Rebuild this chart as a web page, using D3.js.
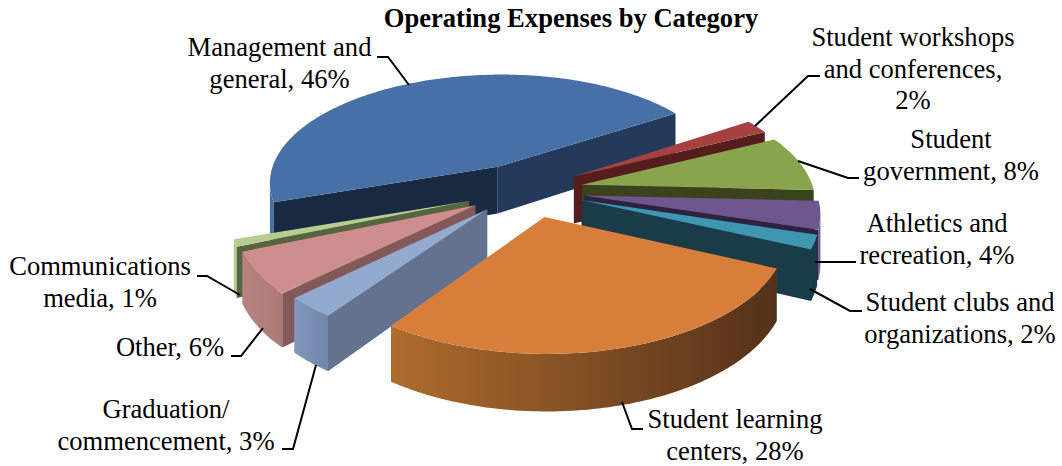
<!DOCTYPE html>
<html>
<head>
<meta charset="utf-8">
<title>Operating Expenses by Category</title>
<script src="https://cdn.jsdelivr.net/npm/d3@7"></script>
<style>
  html, body { margin: 0; padding: 0; background: #fff; }
  svg { display: block; }
  text { font-family: "Liberation Serif", serif; font-size: 26.6px; fill: #000; }
</style>
</head>
<body>
<svg width="1062" height="466"></svg>
<script>
const width = 1062, height = 466;

// Chart values
const categories = ["Management and general", "Student workshops and conferences", "Student government",
    "Athletics and recreation", "Student clubs and organizations", "Student learning centers",
    "Graduation/ commencement", "Other", "Communications media"];
const percents = [46, 2, 8, 4, 2, 28, 3, 6, 1];

// Per slice look: top face, radial wall, outer wall left and right
const topColors = ["#4670a6", "#a5413f", "#88a44c", "#70568f", "#3e97b1", "#d77f3a", "#92a9d0", "#ce8e8d", "#b7cc8f"];
const wallColors = ["#192b42", "#551e1c", "#3b431c", "#2d2240", "#1a3b48", "#54311a", "#63738f", "#825858", "#576441"];
const arcLeft = ["#4670a6", "#551e1c", "#3b431c", "#70568f", "#1a3b48", "#ae6c2d", "#8297bb", "#b5827e", "#b7cc8f"];
const arcRight = ["#4670a6", "#551e1c", "#3b431c", "#70568f", "#1a3b48", "#54311a", "#7086ab", "#ad7b77", "#b7cc8f"];

// Explosion along the slice middle, plus a small sideways nudge (the slices were dragged by hand)
const explode = [0.25, 0.23, 0.23, 0.23, 0.23, 0.23, 0.25, 0.25, 0.25];
const nudgeX = [-0.038, -0.012, -0.004, 0, 0, -0.004, -0.022, -0.026, -0.03];
const nudgeZ = [0, -0.02, -0.01, 0, 0, 0.005, -0.03, -0.01, 0];
const drawOrder = [0, 1, 2, 3, 4, 8, 7, 6, 5];

// Label text and leader lines
const labels = [
    { lines: ["Management and", "general, 46%"], x: 279.5, y: 56, leader: [[377, 57], [388, 57], [409, 85]] },
    { lines: ["Student workshops", "and conferences,", "2%"], x: 913, y: 46, leader: [[820, 76], [808, 76], [755, 126]] },
    { lines: ["Student", "government, 8%"], x: 951, y: 148, leader: [[859, 178], [848, 178], [798, 161]] },
    { lines: ["Athletics and", "recreation, 4%"], x: 937, y: 232, leader: [[856, 262], [815, 262]] },
    { lines: ["Student clubs and", "organizations, 2%"], x: 960, y: 311, leader: [[862, 311], [850, 311], [810, 289]] },
    { lines: ["Student learning", "centers, 28%"], x: 735, y: 428, leader: [[643, 429], [632, 429], [622, 402]] },
    { lines: ["Graduation/", "commencement, 3%"], x: 166, y: 418, leader: [[282, 449], [293, 449], [316, 365]] },
    { lines: ["Other, 6%"], x: 170, y: 356, leader: [[231, 356], [241, 356], [263, 328]] },
    { lines: ["Communications", "media, 1%"], x: 100, y: 275, leader: [[197, 276], [207, 276], [240, 295]] }
];

// Tilted disc with perspective, disc radius is 1
const cx = 531, cy = 191, scaleX = 232, scaleZ = 110.8, persp = 0.135, depth = 48;
const startDeg = -108.9;

function project(x, z, h) {
    const w = 1 - persp * z;
    return [cx + scaleX * x / w, cy + (scaleZ * z + h * depth) / w];
}

const svg = d3.select("svg");
const defs = svg.append("defs");
const line = d3.line();

const pie = d3.pie().value(d => d).sort(null)
    .startAngle(startDeg * Math.PI / 180)
    .endAngle(startDeg * Math.PI / 180 + 2 * Math.PI);
const arcs = pie(percents);

function polygon(points, fill) {
    return svg.append("path")
        .attr("d", line(points) + "Z")
        .attr("fill", fill);
}

drawOrder.forEach(i => {
    const a = arcs[i];
    const mid = (a.startAngle + a.endAngle) / 2;
    const ex = explode[i] * Math.sin(mid) + nudgeX[i];
    const ez = -explode[i] * Math.cos(mid) + nudgeZ[i];

    const steps = Math.max(4, Math.ceil((a.endAngle - a.startAngle) / 0.02));
    const angles = d3.range(steps + 1).map(k => a.startAngle + (a.endAngle - a.startAngle) * k / steps);
    const rim = h => angles.map(t => project(ex + Math.sin(t), ez - Math.cos(t), h));
    const apex = h => project(ex, ez, h);

    const topRim = rim(0), lowRim = rim(1);
    const g = "grad" + i;

    // Outer wall: only the stretch of the rim that runs leftwards faces the viewer
    const front = d3.range(steps).filter(k => topRim[k + 1][0] < topRim[k][0]);
    if (front.length) {
        const up = front.map(k => topRim[k]).concat([topRim[front[front.length - 1] + 1]]);
        const low = front.map(k => lowRim[k]).concat([lowRim[front[front.length - 1] + 1]]);
        const grad = defs.append("linearGradient").attr("id", g)
            .attr("gradientUnits", "userSpaceOnUse")
            .attr("x1", d3.min(up, d => d[0])).attr("x2", d3.max(up, d => d[0]))
            .attr("y1", 0).attr("y2", 0);
        grad.append("stop").attr("offset", 0).attr("stop-color", arcLeft[i]);
        grad.append("stop").attr("offset", 1).attr("stop-color", arcRight[i]);
        polygon(up.concat(low.reverse()), `url(#${g})`);
    }

    // Radial walls
    if (topRim[0][0] < apex(0)[0]) {
        polygon([apex(0), topRim[0], lowRim[0], apex(1)], wallColors[i]);
    }
    if (apex(0)[0] < topRim[steps][0]) {
        // the right hand wall of the big slice is a bit lighter
        polygon([topRim[steps], apex(0), apex(1), lowRim[steps]], i === 0 ? "#233a5a" : wallColors[i]);
    }

    // Top face
    polygon([apex(0)].concat(topRim), topColors[i]);
});

// Leader lines
svg.selectAll(".leader")
    .data(labels)
    .enter().append("path")
    .attr("class", "leader")
    .attr("d", d => line(d.leader))
    .attr("fill", "none")
    .attr("stroke", "#000")
    .attr("stroke-width", 2);

// Labels
const lineHeight = 31.5;
const label = svg.selectAll(".label")
    .data(labels)
    .enter().append("text")
    .attr("class", "label")
    .attr("text-anchor", "middle");

label.selectAll("tspan")
    .data(d => d.lines.map((t, k) => ({ t, k, x: d.x, y: d.y })))
    .enter().append("tspan")
    .attr("x", d => d.x)
    .attr("y", d => d.y + d.k * lineHeight)
    .text(d => d.t);

// Title
svg.append("text")
    .attr("x", 571)
    .attr("y", 27)
    .attr("text-anchor", "middle")
    .style("font-weight", "bold")
    .text("Operating Expenses by Category");
</script>
</body>
</html>
